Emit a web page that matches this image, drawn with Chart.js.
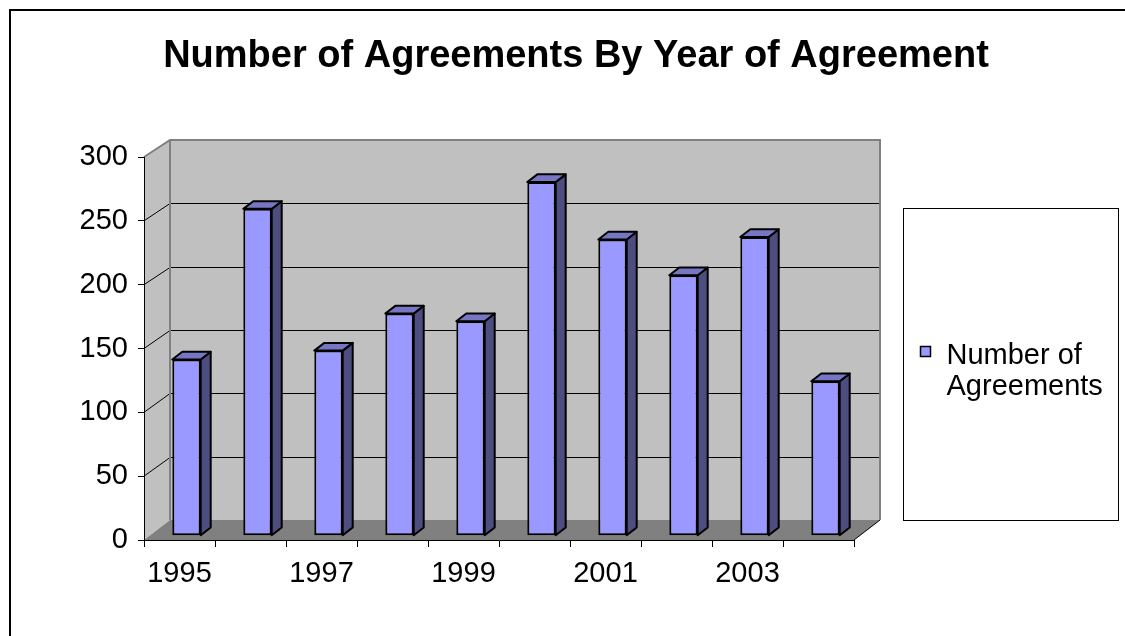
<!DOCTYPE html>
<html>
<head>
<meta charset="utf-8">
<title>Number of Agreements By Year of Agreement</title>
<script src="https://cdn.jsdelivr.net/npm/chart.js@4.4.0/dist/chart.umd.min.js"></script>
<style>
  html, body { margin: 0; padding: 0; background: #fff; }
  canvas { display: block; }
</style>
</head>
<body>
<canvas id="agreementsChart" width="1125" height="636"></canvas>
<script>
const years = ["1995", "1996", "1997", "1998", "1999", "2000", "2001", "2002", "2003", "2004"];
const agreements = [138, 256, 145, 174, 168, 277, 232, 204, 234, 121];
const labelledYears = ["1995", "1997", "1999", "2001", "2003"];
const valueTicks = [0, 50, 100, 150, 200, 250, 300];
const seriesLabel = "Number of Agreements";

// 3D look: wall depth, bar offset and bar depth faces
const WALL_DX = 26, WALL_DY = 20, BACK_SCALE = 380 / 383;
const BAR_DX = 7, BAR_DY = 4.3;
const FACE_DX = 10, FACE_DY = 7.7;
const FRONT = "#9999FF", SIDE = "#4D4D80", TOP = "#7676C4";

Chart.defaults.font.family = "'Liberation Sans', Arial, sans-serif";
Chart.defaults.color = "#000";

function poly(ctx, pts) {
    ctx.beginPath();
    ctx.moveTo(pts[0][0], pts[0][1]);
    for (let i = 1; i < pts.length; i++) ctx.lineTo(pts[i][0], pts[i][1]);
    ctx.closePath();
}

const wallsPlugin = {
    id: "walls",
    beforeDraw(chart) {
        const { ctx, chartArea: a } = chart;
        const y = chart.scales.y;
        ctx.save();
        ctx.fillStyle = "#fff";
        ctx.fillRect(0, 0, chart.width, chart.height);

        // outer frame (runs off the right and bottom edges)
        ctx.strokeStyle = "#000";
        ctx.lineWidth = 2;
        ctx.strokeRect(10, 10, chart.width + 40, chart.height + 40);

        const max = valueTicks[valueTicks.length - 1];
        const base = y.getPixelForValue(0);
        const top = y.getPixelForValue(max);
        const backY = v => base - WALL_DY - (base - y.getPixelForValue(v)) * BACK_SCALE;
        const bl = a.left + WALL_DX, br = a.right + WALL_DX;

        // back wall and side wall
        ctx.fillStyle = "#C0C0C0";
        ctx.fillRect(bl, backY(max), br - bl, backY(0) - backY(max));
        poly(ctx, [[a.left, base], [bl, backY(0)], [bl, backY(max)], [a.left, top]]);
        ctx.fill();

        // floor
        ctx.fillStyle = "#808080";
        poly(ctx, [[a.left, base], [a.right, base], [br, backY(0)], [bl, backY(0)]]);
        ctx.fill();

        // gridlines on both walls
        ctx.strokeStyle = "#000";
        ctx.lineWidth = 1;
        valueTicks.slice(1, -1).forEach(v => {
            const yb = Math.round(backY(v)) + 0.5;
            ctx.beginPath();
            ctx.moveTo(a.left, y.getPixelForValue(v));
            ctx.lineTo(bl, yb);
            ctx.lineTo(br, yb);
            ctx.stroke();
        });

        // floor edge on the right
        ctx.beginPath();
        ctx.moveTo(a.right, base);
        ctx.lineTo(br, backY(0));
        ctx.stroke();

        // wall outlines
        ctx.strokeStyle = "#808080";
        ctx.lineWidth = 2;
        ctx.beginPath();
        ctx.moveTo(a.left, top);
        ctx.lineTo(bl, backY(max));
        ctx.lineTo(br, backY(max));
        ctx.lineTo(br, backY(0));
        ctx.moveTo(bl, backY(max));
        ctx.lineTo(bl, backY(0));
        ctx.stroke();
        ctx.restore();
    }
};

const barDepthPlugin = {
    id: "barDepth",
    beforeDatasetsDraw(chart) {
        const ctx = chart.ctx;
        ctx.save();
        ctx.translate(BAR_DX, -BAR_DY);
        ctx.strokeStyle = "#000";
        ctx.lineWidth = 2;
        ctx.lineJoin = "round";
        chart.getDatasetMeta(0).data.forEach(bar => {
            const { x, y, base, width } = bar.getProps(["x", "y", "base", "width"], true);
            const l = x - width / 2, r = x + width / 2;
            ctx.fillStyle = SIDE;
            poly(ctx, [[r, y], [r + FACE_DX, y - FACE_DY], [r + FACE_DX, base - FACE_DY], [r, base]]);
            ctx.fill();
            ctx.stroke();
            ctx.fillStyle = TOP;
            poly(ctx, [[l, y], [l + FACE_DX, y - FACE_DY], [r + FACE_DX, y - FACE_DY], [r, y]]);
            ctx.fill();
            ctx.stroke();
        });
    },
    afterDatasetsDraw(chart) {
        chart.ctx.restore();
    }
};

const boxLegendPlugin = {
    id: "boxLegend",
    afterDraw(chart) {
        const { ctx, chartArea: a } = chart;
        const ds = chart.data.datasets[0];
        const left = a.right + 49.5, top = 208.5;
        ctx.save();
        ctx.fillStyle = "#fff";
        ctx.strokeStyle = "#000";
        ctx.lineWidth = 1;
        ctx.fillRect(left, top, 215, 312);
        ctx.strokeRect(left, top, 215, 312);

        ctx.fillStyle = ds.backgroundColor;
        ctx.fillRect(left + 17, top + 138, 10, 10);
        ctx.lineWidth = 1.5;
        ctx.strokeRect(left + 17, top + 138, 10, 10);

        ctx.fillStyle = "#000";
        ctx.font = "29px 'Liberation Sans', Arial, sans-serif";
        ctx.textBaseline = "alphabetic";
        ctx.textAlign = "left";
        const words = ds.label.split(" ");
        const lines = [words.slice(0, 2).join(" "), words.slice(2).join(" ")];
        lines.forEach((line, i) => ctx.fillText(line, left + 43, top + 155 + i * 31));
        ctx.restore();
    }
};

new Chart(document.getElementById("agreementsChart"), {
    type: "bar",
    data: {
        labels: years,
        datasets: [{
            label: seriesLabel,
            data: agreements,
            backgroundColor: FRONT,
            borderColor: "#000",
            borderWidth: 2,
            borderSkipped: false,
            barPercentage: 0.4,
            categoryPercentage: 1.0,
            clip: false
        }]
    },
    options: {
        responsive: false,
        animation: false,
        layout: { padding: { left: 27, top: 0, right: 0, bottom: 0 } },
        plugins: {
            legend: { display: false },
            tooltip: { enabled: false },
            title: {
                display: true,
                text: "Number of Agreements By Year of Agreement",
                font: { size: 38, weight: "bold" },
                color: "#000",
                padding: { top: 34, bottom: 77.4 }
            }
        },
        scales: {
            x: {
                offset: true,
                grid: { offset: true, drawOnChartArea: false, tickLength: 7, color: "#000" },
                border: { color: "#000" },
                ticks: {
                    autoSkip: false,
                    maxRotation: 0,
                    padding: 10,
                    font: { size: 29 },
                    color: "#000",
                    callback(value) {
                        const label = this.getLabelForValue(value);
                        return labelledYears.includes(label) ? label : "";
                    }
                },
                afterFit(scale) { scale.height = 96; }
            },
            y: {
                min: valueTicks[0],
                max: valueTicks[valueTicks.length - 1],
                grid: { drawOnChartArea: false, tickLength: 6, color: "#000" },
                border: { color: "#000" },
                ticks: { padding: 10, font: { size: 29 }, color: "#000" },
                afterBuildTicks(scale) { scale.ticks = valueTicks.map(v => ({ value: v })); },
                afterFit(scale) { scale.width = 117; }
            },
            // empty scale that reserves the legend column on the right
            legendSpace: {
                type: "linear",
                position: "right",
                grid: { display: false },
                border: { display: false },
                ticks: { display: false },
                afterFit(scale) { scale.width = 271; }
            }
        }
    },
    plugins: [wallsPlugin, barDepthPlugin, boxLegendPlugin]
});
</script>
</body>
</html>
